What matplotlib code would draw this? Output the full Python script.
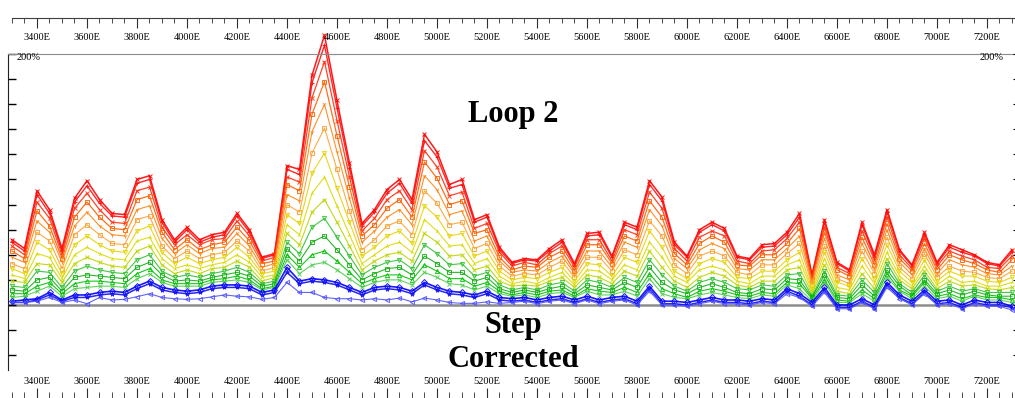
import matplotlib
matplotlib.use("Agg")
import matplotlib.pyplot as plt
from matplotlib.ticker import MultipleLocator, FuncFormatter

plt.rcParams['font.family'] = ['Liberation Serif', 'DejaVu Serif']

# survey stations (every 50 m, 3300E .. 7300E)
stations = list(range(3300, 7301, 50))

# channel values in %, early time (top, red) to late time (bottom, blue)
ch01 = [52, 45, 91, 76, 45, 85, 99, 84, 73, 72, 100, 103, 68, 52, 62, 52, 56, 58, 73, 60,
        38, 41, 111, 108, 183, 215, 163, 113, 65, 76, 92, 100, 84, 136, 122, 96, 100, 68, 72, 46,
        34, 37, 36, 45, 52, 33, 57, 58, 39, 66, 62, 99, 86, 50, 39, 60, 66, 61, 39, 37,
        48, 49, 58, 73, 24, 68, 34, 28, 66, 40, 76, 44, 32, 58, 34, 48, 44, 40, 34, 32, 44]
ch02 = [50, 43, 88, 73, 43, 82, 95, 81, 71, 70, 97, 100, 66, 50, 60, 50, 54, 56, 71, 58,
        37, 40, 108, 104, 177, 207, 157, 109, 63, 74, 89, 97, 81, 131, 118, 93, 96, 66, 70, 44,
        33, 36, 35, 43, 50, 32, 55, 56, 38, 64, 60, 96, 83, 48, 38, 58, 64, 59, 38, 36,
        46, 47, 56, 70, 23, 66, 33, 27, 64, 38, 74, 43, 31, 56, 33, 46, 42, 39, 33, 31, 42]
ch03 = [47, 40, 82, 69, 40, 77, 89, 76, 66, 65, 91, 94, 62, 48, 56, 48, 52, 53, 67, 55,
        35, 38, 102, 98, 165, 194, 147, 102, 59, 69, 84, 91, 76, 123, 110, 87, 90, 61, 65, 42,
        31, 34, 32, 41, 47, 30, 52, 52, 35, 60, 56, 90, 77, 45, 35, 54, 59, 55, 35, 33,
        43, 44, 53, 66, 22, 62, 30, 25, 59, 36, 70, 40, 29, 53, 31, 43, 39, 36, 30, 29, 39]
ch04 = [43, 37, 75, 63, 37, 70, 82, 70, 61, 60, 84, 87, 58, 44, 52, 44, 48, 50, 62, 51,
        33, 35, 96, 91, 152, 178, 135, 94, 55, 64, 77, 84, 70, 114, 101, 80, 83, 57, 60, 38,
        28, 31, 30, 38, 43, 27, 48, 48, 33, 55, 51, 83, 70, 41, 32, 49, 55, 50, 32, 31,
        40, 40, 49, 61, 20, 58, 28, 23, 54, 32, 65, 37, 27, 49, 28, 40, 36, 33, 28, 26, 36]
ch05 = [38, 34, 67, 58, 34, 63, 74, 63, 56, 55, 76, 79, 53, 41, 48, 41, 45, 46, 57, 47,
        30, 33, 88, 83, 138, 160, 122, 85, 50, 59, 70, 76, 64, 103, 92, 72, 75, 51, 55, 35,
        26, 28, 27, 34, 39, 25, 43, 43, 30, 50, 46, 76, 63, 37, 29, 44, 49, 45, 29, 28,
        36, 36, 45, 55, 18, 53, 24, 20, 49, 29, 60, 34, 24, 45, 25, 36, 32, 30, 25, 24, 31]
ch06 = [33, 29, 58, 51, 29, 56, 64, 56, 49, 48, 68, 71, 47, 37, 43, 37, 40, 42, 51, 43,
        27, 30, 80, 74, 121, 141, 108, 75, 44, 52, 63, 67, 56, 91, 81, 64, 66, 45, 49, 31,
        23, 25, 24, 30, 35, 22, 38, 38, 27, 44, 40, 67, 55, 32, 25, 39, 43, 39, 26, 24,
        32, 32, 41, 49, 16, 47, 21, 17, 43, 25, 54, 30, 21, 41, 22, 31, 27, 26, 22, 21, 27]
ch07 = [29, 25, 50, 44, 25, 48, 55, 48, 43, 42, 59, 63, 42, 33, 38, 33, 36, 38, 46, 38,
        25, 27, 72, 65, 105, 121, 93, 66, 39, 46, 55, 59, 49, 79, 70, 55, 57, 39, 43, 27,
        20, 22, 21, 26, 30, 19, 33, 32, 23, 38, 34, 59, 46, 27, 21, 33, 37, 34, 22, 21,
        27, 27, 36, 42, 13, 42, 18, 15, 37, 21, 48, 27, 18, 36, 19, 27, 23, 23, 19, 18, 22]
ch08 = [24, 21, 41, 38, 21, 40, 46, 41, 37, 36, 51, 54, 37, 29, 32, 29, 32, 34, 40, 34,
        22, 24, 64, 56, 89, 102, 79, 56, 33, 40, 47, 50, 42, 68, 59, 47, 48, 33, 37, 23,
        17, 19, 17, 22, 26, 16, 28, 27, 20, 32, 28, 50, 38, 23, 18, 28, 31, 28, 19, 17,
        23, 23, 32, 36, 11, 37, 14, 12, 31, 17, 42, 23, 15, 31, 16, 23, 18, 19, 15, 15, 18]
ch09 = [19, 18, 33, 32, 18, 33, 38, 34, 31, 30, 43, 47, 32, 25, 28, 25, 29, 30, 35, 30,
        19, 22, 57, 48, 74, 84, 66, 47, 28, 35, 40, 42, 35, 57, 50, 39, 40, 28, 31, 19,
        15, 16, 15, 19, 22, 14, 24, 22, 17, 27, 23, 43, 30, 19, 14, 22, 26, 23, 16, 14,
        19, 19, 28, 30, 9, 32, 11, 9, 25, 13, 37, 20, 13, 27, 13, 19, 15, 16, 13, 12, 14]
ch10 = [15, 14, 27, 26, 14, 27, 31, 28, 26, 25, 36, 40, 27, 22, 24, 22, 25, 27, 30, 26,
        17, 19, 50, 41, 62, 69, 54, 39, 24, 30, 34, 36, 29, 48, 41, 32, 33, 23, 26, 16,
        12, 14, 12, 16, 18, 11, 20, 18, 14, 22, 18, 36, 24, 15, 11, 18, 21, 18, 13, 12,
        16, 15, 24, 25, 7, 27, 8, 7, 20, 10, 33, 17, 10, 24, 11, 15, 11, 13, 10, 10, 10]
ch11 = [12, 11, 20, 22, 11, 22, 24, 23, 22, 21, 30, 34, 24, 19, 20, 19, 22, 24, 26, 23,
        15, 17, 45, 35, 50, 55, 44, 32, 20, 25, 29, 30, 24, 39, 33, 26, 26, 19, 22, 13,
        10, 12, 10, 13, 15, 9, 16, 14, 12, 18, 14, 30, 18, 12, 9, 14, 17, 14, 10, 9,
        13, 12, 21, 20, 6, 24, 6, 5, 16, 7, 28, 15, 8, 20, 9, 12, 8, 11, 8, 7, 7]
ch12 = [9, 9, 15, 18, 9, 17, 19, 19, 18, 17, 25, 29, 20, 17, 17, 17, 20, 21, 23, 20,
        13, 15, 40, 30, 40, 43, 35, 26, 17, 21, 24, 24, 20, 32, 27, 21, 21, 15, 18, 11,
        8, 10, 8, 11, 12, 7, 13, 11, 10, 14, 10, 25, 13, 9, 6, 11, 13, 11, 8, 7,
        10, 9, 18, 17, 5, 20, 4, 3, 12, 5, 25, 12, 7, 18, 7, 9, 5, 8, 6, 6, 4]
ch13 = [6, 7, 11, 15, 7, 13, 14, 15, 15, 14, 21, 25, 18, 15, 15, 15, 18, 19, 20, 18,
        12, 14, 36, 25, 32, 34, 28, 21, 14, 18, 20, 20, 16, 26, 22, 17, 16, 12, 15, 9,
        7, 8, 6, 9, 10, 6, 11, 8, 8, 11, 7, 21, 9, 6, 5, 8, 10, 8, 6, 5,
        8, 7, 16, 13, 3, 18, 2, 2, 9, 3, 22, 11, 5, 15, 5, 7, 3, 7, 4, 4, 2]
ch14 = [3, 4, 5, 10, 4, 8, 8, 10, 11, 10, 15, 19, 14, 12, 11, 12, 15, 16, 16, 15,
        10, 12, 30, 19, 21, 20, 18, 14, 10, 14, 15, 14, 11, 18, 14, 11, 10, 8, 11, 6,
        5, 6, 4, 6, 7, 4, 7, 4, 6, 7, 3, 15, 3, 3, 2, 4, 6, 4, 4, 3,
        5, 4, 13, 9, 2, 14, 0, 0, 5, 0, 18, 8, 3, 12, 3, 4, 0, 4, 2, 2, -1]
ch15 = [2, 2, 4, 8, 3, 6, 6, 8, 9, 8, 13, 17, 12, 10, 9, 10, 13, 14, 14, 13,
        8, 10, 26, 17, 19, 18, 16, 12, 8, 12, 13, 12, 9, 16, 12, 9, 8, 6, 9, 4,
        3, 4, 2, 4, 5, 2, 5, 2, 4, 5, 1, 13, 1, 1, 0, 2, 4, 2, 2, 1,
        3, 2, 11, 7, 0, 12, -2, -2, 3, -2, 16, 6, 1, 10, 1, 2, -2, 2, 0, 0, -2]
ch16 = [2, 2, 3, 6, 2, 4, 1, 6, 4, 4.5, 6.6, 9, 6, 5, 4.5, 5, 6.5, 8, 7, 6.5,
        4.5, 6, 18, 10, 10, 6, 5, 5, 4, 5, 4, 5.5, 2.5, 5.5, 4, 2, 1.3, 1.3, 2.5, 1.3,
        2, 3, 1, 3, 4, 1, 4, 1, 3, 4, 0, 11, 0, 0, -1, 1, 3, 1, 1, 0,
        2, 1, 9, 6, -1, 10, -3, -3, 2, -3, 14, 5, 0, 9, 0, 1, -3, 1, -1, -1, -4]

channels = [ch01, ch02, ch03, ch04, ch05, ch06, ch07, ch08,
            ch09, ch10, ch11, ch12, ch13, ch14, ch15, ch16]
colors = ['#ff0000', '#ff1010', '#ff3010', '#ff6000', '#ff8410', '#ffa030',
          '#e6d200', '#dada00', '#bcd400', '#30c030', '#10b010', '#00c000',
          '#50cc50', '#0000ff', '#1010f0', '#5050ff']
markers = ['x', '+', 'x', 's', '1', 's', 'v', '2', 'x', 'v', 's', '^',
           'x', 'D', '*', '<']
widths = [1.1, 1.0, 0.9, 0.9, 0.8, 0.8, 0.8, 0.8, 0.8, 0.8, 0.8, 0.8,
          0.8, 1.2, 1.1, 0.8]

W, H = 1015, 398
fig = plt.figure(figsize=(W / 100, H / 100), dpi=100)


def fx(px):
    return px / W


def fy(py):
    return 1 - py / H


# main profile axes
ax = fig.add_axes([fx(8), fy(370), fx(1013) - fx(8), fy(54) - fy(370)])
ax.set_xlim(3284, 7304)
ax.set_ylim(-51.8, 200)
ax.axhline(0, color='#8c8c8c', lw=1.8, zorder=0)
for vals, c, m, lw in zip(channels, colors, markers, widths):
    ax.plot(stations, vals, color=c, lw=lw, marker=m, ms=3, mew=0.7,
            mfc='none', alpha=0.9, clip_on=False)

ax.set_xticks([])
ax.yaxis.set_major_locator(MultipleLocator(20))
ax.tick_params(axis='y', direction='in', length=6, width=1, labelleft=False)
ax.spines['left'].set_color('#202020')
ax.spines['top'].set_color('#8c8c8c')
ax.spines['right'].set_visible(False)
ax.spines['bottom'].set_visible(False)

axr = ax.twinx()
axr.set_ylim(-51.8, 200)
axr.yaxis.set_major_locator(MultipleLocator(20))
axr.tick_params(axis='y', direction='out', length=3, labelright=False)
for s in axr.spines.values():
    s.set_visible(False)

fig.text(fx(17), fy(57), '200%', ha='left', va='center', fontsize=7.5)
fig.text(fx(1004), fy(57), '200%', ha='right', va='center', fontsize=7.5)

# easting scales on top and bottom
fmt = FuncFormatter(lambda v, p: '%dE' % v)
for ypx, top in [(18, True), (398, False)]:
    sc = fig.add_axes([fx(12), fy(ypx), fx(1015) - fx(12), 0.0001])
    sc.set_xlim(3300, 7312)
    sc.set_yticks([])
    sc.patch.set_visible(False)
    for s in sc.spines.values():
        s.set_visible(False)
    sc.xaxis.set_major_locator(MultipleLocator(200))
    sc.xaxis.set_minor_locator(MultipleLocator(50))
    sc.xaxis.set_major_formatter(fmt)
    if top:
        sc.spines['bottom'].set_visible(True)
        sc.spines['bottom'].set_color('#404040')
        sc.tick_params(axis='x', which='major', direction='out', length=7.2,
                       labelsize=7.5, pad=3.5, color='#303030')
        sc.tick_params(axis='x', which='minor', direction='out', length=3.6,
                       color='#303030')
    else:
        sc.xaxis.tick_top()
        sc.tick_params(axis='x', which='major', direction='out', length=7.2,
                       labelsize=7.5, pad=1.5, color='#303030')
        sc.tick_params(axis='x', which='minor', direction='out', length=4.3,
                       color='#303030')

fig.text(fx(513), fy(122), 'Loop 2', ha='center', va='baseline',
         fontsize=22, fontweight='bold')
fig.text(fx(513), fy(333), 'Step', ha='center', va='baseline',
         fontsize=22, fontweight='bold')
fig.text(fx(513), fy(367), 'Corrected', ha='center', va='baseline',
         fontsize=22, fontweight='bold')

fig.savefig('out.png', dpi=100)
